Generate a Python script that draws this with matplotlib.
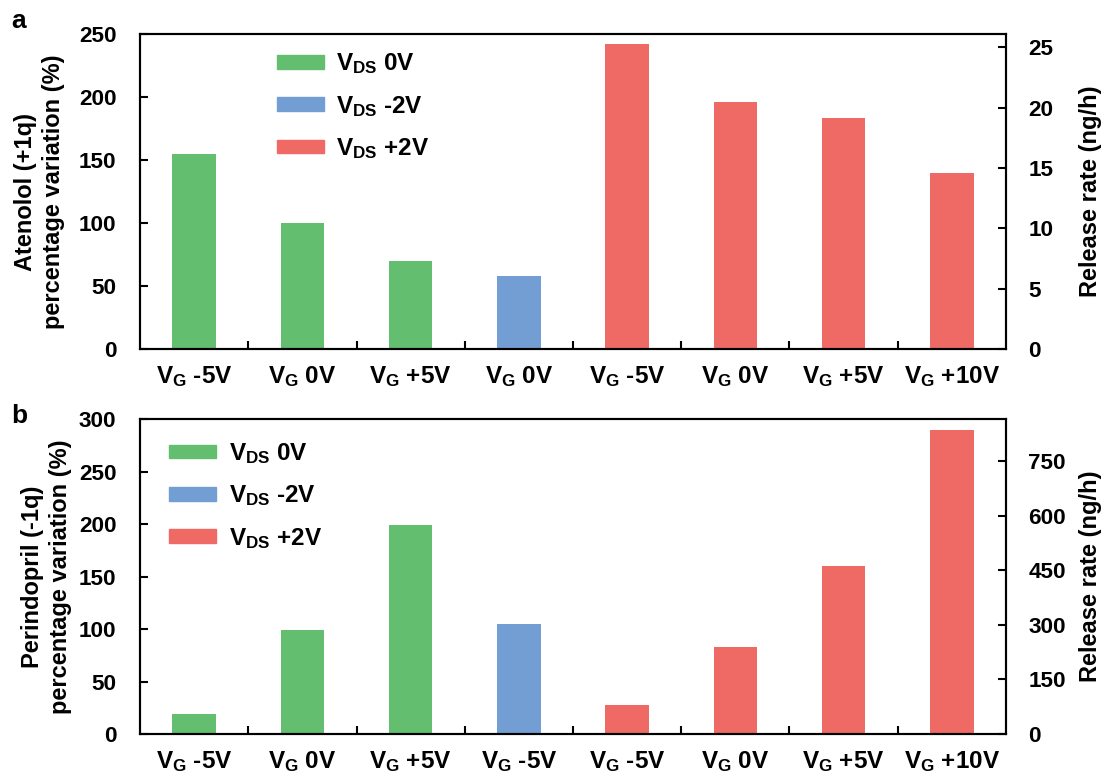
import numpy as np
import matplotlib
matplotlib.use('Agg')
import matplotlib.pyplot as plt
from matplotlib.patches import Patch

plt.rcParams['font.family'] = ['Liberation Sans', 'DejaVu Sans']
plt.rcParams['font.weight'] = 'bold'
plt.rcParams['mathtext.fontset'] = 'custom'
plt.rcParams['mathtext.rm'] = 'Liberation Sans:bold'
plt.rcParams['mathtext.it'] = 'Liberation Sans:bold'
plt.rcParams['mathtext.bf'] = 'Liberation Sans:bold'
plt.rcParams['mathtext.default'] = 'rm'

# data
conditions = ['0V', '0V', '0V', '-2V', '+2V', '+2V', '+2V', '+2V']
gate_a = ['-5V', '0V', '+5V', '0V', '-5V', '0V', '+5V', '+10V']
gate_b = ['-5V', '0V', '+5V', '-5V', '-5V', '0V', '+5V', '+10V']
atenolol = [155, 100, 70, 58, 242, 196, 183, 140]
perindopril = [19, 99, 199, 105, 28, 83, 160, 290]
rate_ticks_a = [0, 5, 10, 15, 20, 25]
rate_ticks_b = [0, 150, 300, 450, 600, 750]

colors = {'0V': '#64BE6F', '-2V': '#729ED4', '+2V': '#F06A65'}
legend_order = ['0V', '-2V', '+2V']


def panel(ax, values, gates, ymax, yticks, rmax, rticks, ylabel, leg_xy, lab_x, letter, letter_y):
    x = np.arange(len(values))
    ax.bar(x, values, width=0.4, color=[colors[c] for c in conditions])
    ax.set_xlim(-0.5, len(values) - 0.5)
    ax.set_ylim(0, ymax)
    ax.set_yticks(yticks)
    ax.set_xticks(x)
    ax.set_xticklabels(['V$_{G}$ ' + g for g in gates])
    ax.set_xticks(x[:-1] + 0.5, minor=True)
    ax.tick_params(axis='x', which='major', length=0, pad=11, labelsize=17.5)
    ax.tick_params(axis='x', which='minor', direction='in', length=6, width=1.5)
    ax.tick_params(axis='y', direction='in', length=6, width=1.5, pad=17, labelsize=16.2)
    for s in ax.spines.values():
        s.set_linewidth(1.5)

    r = ax.twinx()
    r.set_ylim(0, rmax)
    r.set_yticks(rticks)
    r.tick_params(axis='y', direction='in', length=6, width=1.5, pad=16, labelsize=16.2)
    for s in r.spines.values():
        s.set_linewidth(1.5)

    ax.text(lab_x, 0.5, ylabel, transform=ax.transAxes, rotation=90,
            ha='center', va='center', fontsize=17, linespacing=1.32)
    ax.text(1.098, 0.5, 'Release rate (ng/h)', transform=ax.transAxes, rotation=90,
            ha='center', va='center', fontsize=17)
    ax.text(-0.1397, letter_y, letter, transform=ax.transAxes, ha='center', va='baseline',
            fontsize=19)

    handles = [Patch(color=colors[c], label='V$_{DS}$ ' + c) for c in legend_order]
    ax.legend(handles=handles, loc='upper left', bbox_to_anchor=leg_xy, frameon=False,
              fontsize=17.5, handlelength=1.95, handleheight=0.5, handletextpad=0.5,
              labelspacing=0.72, borderpad=0, borderaxespad=0)


fig = plt.figure(figsize=(11.05, 7.77), dpi=100)
ax_a = fig.add_axes([0.1267, 0.5508, 0.7837, 0.4054])
ax_b = fig.add_axes([0.1267, 0.0553, 0.7837, 0.4054])

panel(ax_a, atenolol, gate_a, 250, [0, 50, 100, 150, 200, 250], 26.1, rate_ticks_a,
      'Atenolol (+1q)\npercentage variation (%)', (0.158, 0.945), -0.116, 'a', 1.019)
panel(ax_b, perindopril, gate_b, 300, [0, 50, 100, 150, 200, 250, 300], 865, rate_ticks_b,
      'Perindopril (-1q)\npercentage variation (%)', (0.0335, 0.93), -0.108, 'b', 0.987)

fig.savefig('out.png', dpi=100)
